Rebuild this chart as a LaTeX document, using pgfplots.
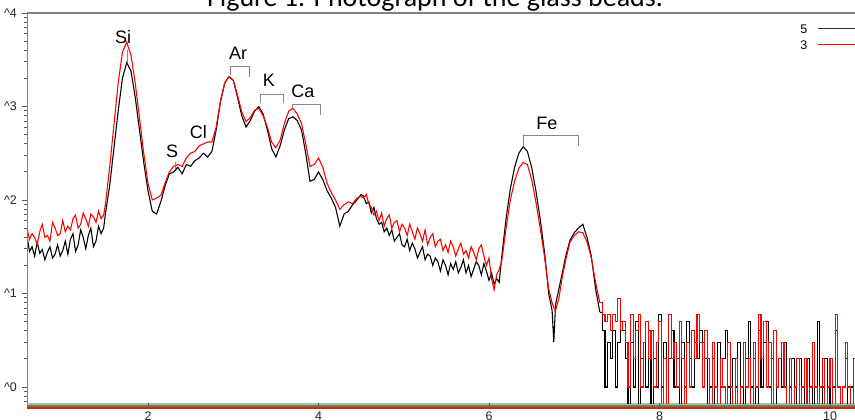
\documentclass[border=0pt]{standalone}
\usepackage{pgfplots}
\pgfplotsset{compat=1.18}
\usepackage{pgfplotstable}
\usepackage{fontspec}
\setmainfont{Liberation Sans}
\newfontfamily\calibri{Carlito}
\definecolor{axgray}{RGB}{128,128,128}
\definecolor{brgray}{RGB}{135,135,135}
\definecolor{stripgray}{RGB}{175,185,175}
\definecolor{stripgreen}{RGB}{85,140,75}
\definecolor{stripred}{RGB}{215,35,20}
\newcommand\tickfont{\fontsize{7.5}{9}\selectfont}
\newcommand\labfont{\fontsize{10.8}{12}\selectfont}

\pgfplotstableread{
E b r
0.58 1.62 1.70
0.61 1.45 1.58
0.64 1.50 1.64
0.67 1.40 1.60
0.70 1.55 1.52
0.73 1.43 1.66
0.76 1.47 1.74
0.79 1.36 1.60
0.82 1.44 1.62
0.85 1.50 1.56
0.88 1.38 1.76
0.91 1.42 1.70
0.94 1.52 1.62
0.97 1.40 1.64
1.00 1.46 1.78
1.03 1.56 1.66
1.06 1.42 1.72
1.09 1.58 1.68
1.12 1.64 1.80
1.15 1.45 1.84
1.18 1.52 1.70
1.21 1.68 1.74
1.24 1.60 1.86
1.27 1.48 1.80
1.30 1.62 1.72
1.33 1.70 1.85
1.36 1.50 1.82
1.39 1.56 1.76
1.42 1.72 1.88
1.45 1.64 1.80
1.48 1.70 1.84
1.50 1.85 1.95
1.55 2.15 2.35
1.60 2.55 2.80
1.65 2.95 3.25
1.70 3.30 3.58
1.75 3.47 3.69
1.80 3.38 3.55
1.85 3.10 3.25
1.90 2.75 2.88
1.95 2.40 2.50
2.00 2.10 2.18
2.05 1.88 2.00
2.10 1.85 2.02
2.15 1.98 2.05
2.20 2.15 2.18
2.25 2.28 2.30
2.30 2.30 2.36
2.35 2.35 2.38
2.40 2.28 2.36
2.45 2.38 2.45
2.50 2.36 2.50
2.55 2.42 2.52
2.60 2.45 2.58
2.65 2.50 2.60
2.70 2.46 2.62
2.75 2.52 2.62
2.80 2.75 2.78
2.85 3.05 3.06
2.90 3.25 3.25
2.95 3.32 3.32
3.00 3.28 3.28
3.05 3.10 3.12
3.10 2.90 2.94
3.15 2.78 2.84
3.20 2.85 2.88
3.25 2.95 2.96
3.30 3.00 2.98
3.35 2.92 2.90
3.40 2.75 2.78
3.45 2.55 2.62
3.50 2.46 2.56
3.55 2.58 2.64
3.60 2.75 2.82
3.65 2.87 2.95
3.70 2.89 2.98
3.75 2.85 2.92
3.80 2.75 2.82
3.85 2.50 2.60
3.90 2.20 2.36
3.95 2.22 2.38
4.00 2.30 2.45
4.05 2.22 2.35
4.10 2.10 2.18
4.15 2.02 2.08
4.20 1.92 2.00
4.25 1.72 1.90
4.30 1.85 1.95
4.35 1.88 1.98
4.40 1.95 1.96
4.45 2.00 2.02
4.50 2.06 2.04
4.53 2.04 2.02
4.56 1.96 2.06
4.59 1.98 1.96
4.62 1.86 1.92
4.65 1.92 1.84
4.68 1.80 1.88
4.71 1.74 1.78
4.74 1.76 1.86
4.77 1.66 1.72
4.80 1.70 1.80
4.83 1.62 1.84
4.86 1.68 1.70
4.89 1.56 1.76
4.92 1.60 1.78
4.95 1.64 1.66
4.98 1.52 1.74
5.01 1.50 1.70
5.04 1.58 1.62
5.07 1.46 1.74
5.10 1.54 1.66
5.13 1.48 1.58
5.16 1.38 1.70
5.19 1.44 1.64
5.22 1.50 1.56
5.25 1.36 1.68
5.28 1.42 1.52
5.31 1.40 1.60
5.34 1.30 1.64
5.37 1.38 1.50
5.40 1.34 1.56
5.43 1.24 1.58
5.46 1.36 1.46
5.49 1.30 1.52
5.52 1.20 1.44
5.55 1.32 1.56
5.58 1.26 1.50
5.61 1.34 1.40
5.64 1.22 1.48
5.67 1.28 1.54
5.70 1.36 1.42
5.73 1.22 1.46
5.76 1.30 1.38
5.79 1.18 1.50
5.82 1.26 1.44
5.85 1.34 1.36
5.88 1.30 1.48
5.91 1.20 1.52
5.94 1.32 1.40
5.97 1.24 1.30
6.00 1.14 1.38
6.03 1.22 1.16
6.06 1.10 1.04
6.09 1.16 1.20
6.12 1.12 1.26
6.15 1.40 1.35
6.20 1.80 1.70
6.25 2.12 2.00
6.30 2.35 2.20
6.35 2.50 2.34
6.40 2.57 2.40
6.45 2.52 2.38
6.50 2.35 2.22
6.55 2.10 1.98
6.60 1.80 1.70
6.65 1.45 1.40
6.70 1.00 1.05
6.74 0.82 0.90
6.76 0.48 0.85
6.78 0.88 0.82
6.82 1.05 0.95
6.86 1.22 1.18
6.90 1.40 1.36
6.95 1.57 1.55
7.00 1.65 1.62
7.05 1.70 1.66
7.10 1.74 1.65
7.15 1.60 1.55
7.20 1.40 1.38
7.25 1.05 1.12
7.30 0.80 0.90
7.33 0.60 0.78
7.36 0 0.70
7.39 0.48 0.78
7.42 0.30 0.60
7.45 0.60 0.78
7.48 0 0.70
7.51 0.48 0.95
7.54 0.70 0.60
7.57 0.60 0.70
7.60 0.30 0.48
7.63 -0.3 0
7.66 0.48 0.78
7.69 0 0.30
7.72 0.70 0.60
7.75 -0.3 0.78
7.78 0.30 0
7.81 0.48 0.48
7.84 0 0.70
7.87 0.60 0.30
7.90 -0.3 0.60
7.93 0.30 0
7.96 0 0.48
7.99 0.78 0.70
8.02 0 -0.3
8.05 0.48 0.30
8.08 -0.3 -0.3
8.11 0.30 0.78
8.14 0.60 0.30
8.17 0 0.48
8.20 0.30 0
8.23 -0.3 0.70
8.26 0.48 0.30
8.29 0 -0.3
8.32 0.70 0.48
8.35 0.30 0
8.38 0 0.60
8.41 0.48 0.30
8.44 0.30 0.78
8.47 0.60 0.48
8.50 0.48 0
8.53 0.30 0.60
8.56 -0.3 0.30
8.59 0 -0.3
8.62 0.30 0.48
8.65 -0.3 0
8.68 0.48 -0.3
8.71 0 0.30
8.74 0.30 0
8.77 0.60 -0.3
8.80 0 0.48
8.83 -0.3 0
8.86 0.30 -0.3
8.89 0 0.30
8.92 0.48 -0.3
8.95 0 0
8.98 -0.3 0.48
9.01 0.30 0
9.04 0.70 0.30
9.07 0 -0.3
9.10 0.30 0.48
9.13 -0.3 0
9.16 0.60 0.78
9.19 0 0.30
9.22 0.48 0.70
9.25 0.70 0
9.28 0 0.48
9.31 0.30 -0.3
9.34 -0.3 0.60
9.37 0 0
9.40 0.30 0.30
9.43 0 0.48
9.46 0.48 0
9.49 -0.3 -0.3
9.52 0 0.30
9.55 0.30 -0.3
9.58 0 0
9.61 -0.3 0.30
9.64 0.30 -0.3
9.67 0 0
9.70 -0.3 0.30
9.73 0.30 -0.3
9.76 0 0
9.79 -0.3 0.48
9.82 0 0
9.85 0.70 -0.3
9.88 -0.3 0
9.91 0 0.30
9.94 0.30 -0.3
9.97 0 0
10.00 -0.3 0.30
10.03 0 -0.3
10.06 0.60 0.78
10.09 0 0
10.12 -0.3 -0.3
10.15 0 0
10.18 0.30 0.48
10.21 -0.3 0
10.24 0 -0.3
10.27 -0.3 0.30
10.30 0 0
}\spec

\begin{document}
\begin{tikzpicture}
\useasboundingbox (0,0) rectangle (513pt,251.4pt);
\clip (0,0) rectangle (513pt,251.4pt);
\begin{scope}[x=0.6pt,y=0.6pt]
\draw[stripgray, line width=1.2pt] (27,15.3) -- (860,15.3);
\draw[stripgreen, line width=1.4pt] (27,13.0) -- (860,13.0);
\draw[stripred, line width=1.4pt] (27,10.7) -- (860,10.7);
\end{scope}
\begin{axis}[
  at={(16.2pt,9.6pt)}, anchor=south west,
  scale only axis, width=496.8pt, height=234pt,
  xmin=0.5806, xmax=10.293, ymin=-0.1711, ymax=4.0,
  axis line style={draw=none},
  xtick={2,4,6,8,10}, xticklabels={2,4,6,8,10},
  ytick={0,1,2,3,4},
  yticklabels={\textasciicircum 0,\textasciicircum 1,\textasciicircum 2,\textasciicircum 3,\textasciicircum 4},
  minor ytick={-0.155,-0.097,-0.046,0.301,0.477,0.602,0.699,0.778,0.845,0.903,0.954,1.301,1.477,1.602,1.699,1.778,1.845,1.903,1.954,2.301,2.477,2.602,2.699,2.778,2.845,2.903,2.954,3.301,3.477,3.602,3.699,3.778,3.845,3.903,3.954},
  tick align=outside, xtick pos=left, ytick pos=left,
  major tick length=3pt, minor tick length=1.6pt,
  tick style={black!65, line width=0.5pt},
  ticklabel style={font=\tickfont, text=black!85},
  yticklabel style={xshift=0.5pt},
  xticklabel style={yshift=1.2pt},
  clip=true,
]
\addplot[black, sharp plot, line width=0.65pt, restrict x to domain=0:7.31] table[x=E, y=b] {\spec};
\addplot[black, const plot, line width=0.65pt, restrict x to domain=7.29:11] table[x=E, y=b] {\spec};
\addplot[red, sharp plot, line width=0.65pt, restrict x to domain=0:7.31] table[x=E, y=r] {\spec};
\addplot[red, const plot, line width=0.65pt, restrict x to domain=7.29:11] table[x=E, y=r] {\spec};

\node[font=\labfont, inner sep=0pt] at (axis cs:1.707,3.743) {Si};
\node[font=\labfont, inner sep=0pt] at (axis cs:2.282,2.524) {S};
\node[font=\labfont, inner sep=0pt] at (axis cs:2.59,2.727) {Cl};
\node[font=\labfont, inner sep=0pt] at (axis cs:3.056,3.572) {Ar};
\node[font=\labfont, inner sep=0pt] at (axis cs:3.419,3.283) {K};
\node[font=\labfont, inner sep=0pt] at (axis cs:3.818,3.166) {Ca};
\node[font=\labfont, inner sep=0pt] at (axis cs:6.68,2.824) {Fe};
\draw[brgray, line width=0.5pt] (axis cs:1.754,3.604) -- (axis cs:1.754,3.476);
\draw[brgray, line width=0.5pt] (axis cs:2.317,2.406) -- (axis cs:2.317,2.33);
\draw[brgray, line width=0.5pt] (axis cs:2.97,3.337) -- (axis cs:2.97,3.426) -- (axis cs:3.188,3.426) -- (axis cs:3.188,3.316);
\draw[brgray, line width=0.5pt] (axis cs:3.314,3.037) -- (axis cs:3.314,3.134) -- (axis cs:3.584,3.134) -- (axis cs:3.584,3.037);
\draw[brgray, line width=0.5pt] (axis cs:3.689,2.984) -- (axis cs:3.689,3.027) -- (axis cs:4.018,3.027) -- (axis cs:4.018,2.909);
\draw[brgray, line width=0.5pt] (axis cs:6.399,2.578) -- (axis cs:6.399,2.695) -- (axis cs:7.044,2.695) -- (axis cs:7.044,2.578);
\end{axis}
\begin{scope}[x=0.6pt,y=0.6pt]
\draw[axgray, line width=0.6pt] (27,16) -- (27,406);
\draw[axgray, line width=1.0pt] (27,406) -- (860,406);
\node[font=\calibri\fontsize{16.8}{20}\selectfont, anchor=base, inner sep=0pt] at (435,412) {Figure 1. Photograph of the glass beads.};
\node[font=\tickfont, anchor=base west, inner sep=0pt] at (800,385.5) {5};
\draw[black!80, line width=0.6pt] (818,390) -- (860,390);
\node[font=\tickfont, anchor=base west, inner sep=0pt] at (800,369.5) {3};
\draw[red, line width=0.6pt] (818,374) -- (860,374);
\end{scope}
\end{tikzpicture}
\end{document}
